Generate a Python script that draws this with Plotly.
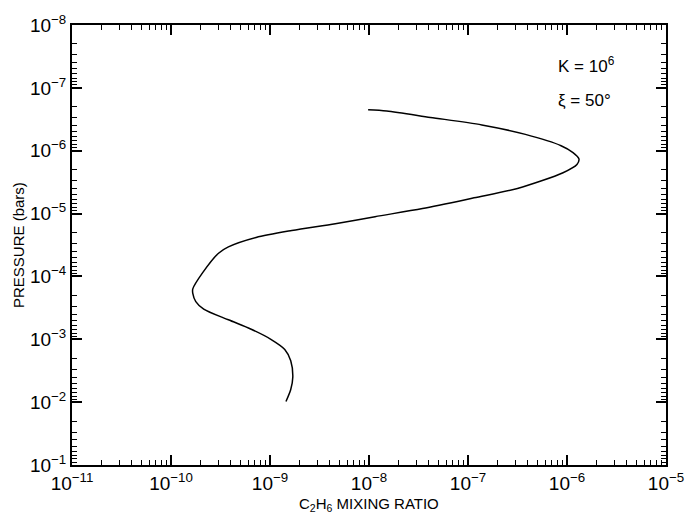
import plotly.graph_objects as go

# C2H6 mixing ratio profile
mixing_ratio = [9.8e-9, 1.51e-8, 4.17e-8, 1.38e-7, 3.80e-7, 8.71e-7, 1.15e-6, 1.32e-6,
                1.26e-6, 9.12e-7, 3.16e-7, 1.15e-7, 3.47e-8, 1.15e-8, 4.57e-9, 1.66e-9,
                7.24e-10, 3.80e-10, 3.02e-10, 2.09e-10, 1.66e-10, 1.66e-10, 1.78e-10,
                2.14e-10, 3.80e-10, 6.46e-10, 1.02e-9, 1.41e-9, 1.62e-9, 1.70e-9,
                1.62e-9, 1.45e-9]
pressure = [2.24e-7, 2.34e-7, 2.95e-7, 3.89e-7, 5.50e-7, 8.32e-7, 1.07e-6, 1.35e-6,
            1.66e-6, 2.24e-6, 3.98e-6, 5.62e-6, 8.32e-6, 1.12e-5, 1.45e-5, 1.86e-5,
            2.40e-5, 3.39e-5, 4.27e-5, 8.71e-5, 1.58e-4, 1.86e-4, 2.51e-4, 3.31e-4,
            4.90e-4, 6.92e-4, 1.0e-3, 1.45e-3, 2.19e-3, 3.98e-3, 6.31e-3, 9.77e-3]

x_tick_vals = [1e-11, 1e-10, 1e-9, 1e-8, 1e-7, 1e-6, 1e-5]
x_tick_text = ["10<sup>−11</sup>", "10<sup>−10</sup>", "10<sup>−9</sup>", "10<sup>−8</sup>",
               "10<sup>−7</sup>", "10<sup>−6</sup>", "10<sup>−5</sup>"]
y_tick_vals = [1e-8, 1e-7, 1e-6, 1e-5, 1e-4, 1e-3, 1e-2, 1e-1]
y_tick_text = ["10<sup>−8</sup>", "10<sup>−7</sup>", "10<sup>−6</sup>", "10<sup>−5</sup>",
               "10<sup>−4</sup>", "10<sup>−3</sup>", "10<sup>−2</sup>", "10<sup>−1</sup>"]

x_title = "C<sub>2</sub>H<sub>6</sub> MIXING RATIO"
y_title = "PRESSURE (bars)"

x_minor = [m * v for v in x_tick_vals[:-1] for m in range(2, 10)]
y_minor = [m * v for v in y_tick_vals[:-1] for m in range(2, 10)]

font_family = "Liberation Sans, Arial, sans-serif"

fig = go.Figure()
fig.add_trace(go.Scatter(x=mixing_ratio, y=pressure, mode="lines",
                         line=dict(color="black", width=1.5, shape="spline", smoothing=0.8),
                         showlegend=False))

axis_common = dict(
    showgrid=False, zeroline=False, showline=True, linecolor="black", linewidth=2,
    mirror="allticks", ticks="inside", ticklen=10, tickwidth=1.5, tickcolor="black",
    tickfont=dict(family=font_family, size=19, color="black"),
)

fig.update_xaxes(type="log", range=[-11, -5], tickvals=x_tick_vals, ticktext=x_tick_text,
                 minor=dict(tickvals=x_minor, ticks="inside", ticklen=5, tickwidth=1.2, tickcolor="black"),
                 **axis_common)
fig.update_yaxes(type="log", range=[-1, -8], autorange=False, tickvals=y_tick_vals, ticktext=y_tick_text,
                 minor=dict(tickvals=y_minor, ticks="inside", ticklen=5, tickwidth=1.2, tickcolor="black"),
                 **axis_common)

fig.add_annotation(x=0.5, y=0, xref="paper", yref="paper", text=x_title, showarrow=False,
                   xanchor="center", yanchor="middle", yshift=-39,
                   font=dict(family=font_family, size=15, color="black"))
fig.add_annotation(x=0, y=0.5, xref="paper", yref="paper", text=y_title, showarrow=False,
                   textangle=-90, xanchor="center", yanchor="middle", xshift=-54,
                   font=dict(family=font_family, size=15, color="black"))

fig.add_annotation(x=0.815, y=0.91, xref="paper", yref="paper", text="K = 10<sup>6</sup>",
                   showarrow=False, xanchor="left", yanchor="middle",
                   font=dict(family=font_family, size=17, color="black"))
fig.add_annotation(x=0.815, y=0.828, xref="paper", yref="paper", text="ξ = 50°",
                   showarrow=False, xanchor="left", yanchor="middle",
                   font=dict(family=font_family, size=17, color="black"))

fig.update_layout(width=696, height=515, margin=dict(l=72, r=22, t=18, b=50),
                  paper_bgcolor="white", plot_bgcolor="white")

fig.write_html("out.html", config={"displayModeBar": False},
               post_script="document.body.style.margin='0';")
